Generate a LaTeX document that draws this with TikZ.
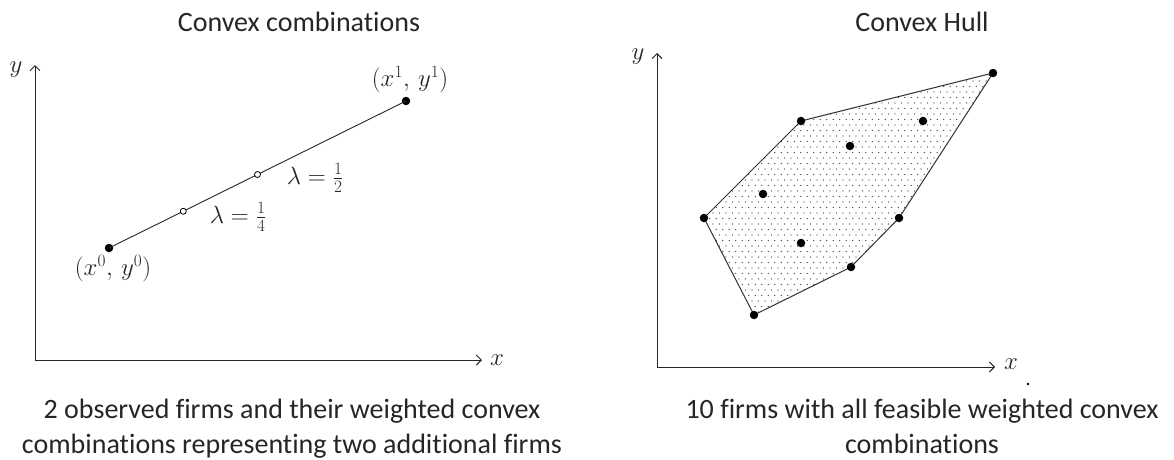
\documentclass[tikz,border=0pt]{standalone}
\usepackage[no-math]{fontspec}
\setmainfont{Carlito}[Ligatures={NoCommon}]
\usetikzlibrary{arrows.meta}
\begin{document}
\begin{tikzpicture}[x=1pt,y=-1pt,
  axis/.style={draw=black!85, line width=1pt, -{Straight Barb[length=5pt,width=10pt]}},
  fdot/.style={circle, fill=black, inner sep=0pt, minimum size=8.5pt},
  odot/.style={circle, draw=black, fill=white, line width=0.8pt, inner sep=0pt, minimum size=6pt},
  seg/.style={draw=black!85, line width=0.9pt},
  hull/.style={draw=black!80, line width=1pt},
  lbl/.style={inner sep=0pt, text=black!85, font=\fontsize{23}{27}\selectfont},
  ttl/.style={inner sep=0pt, anchor=base, text=black!85, font=\fontsize{28}{34}\selectfont},
  captext/.style={inner sep=0pt, anchor=base, text=black!85, font=\fontsize{28}{34}\selectfont}
]
\useasboundingbox (0,0) rectangle (1174,459);
\fill[white] (0,0) rectangle (1174,459);

% ---------- titles ----------
\node[ttl] (t1) at (299,31) {Convex combinations};
\node[ttl] (t2) at (922,31) {Convex Hull};

% ---------- left plot ----------
\coordinate (O1) at (35,360);
\coordinate (Y1) at (35,65);
\coordinate (X1) at (482,360);
\draw[axis] (O1) -- (Y1);
\draw[axis] (O1) -- (X1);
\node[lbl] (ly1) at (16,70) {$y$};
\node[lbl] (lx1) at (497,360) {$x$};

\node[fdot] (p0) at (109,248) {};
\node[fdot] (p1) at (406,101) {};
\draw[seg] (p0.center) -- (p1.center);
\node[odot] (q1) at (183.25,211.25) {};
\node[odot] (q2) at (257.5,174.5) {};
\node[lbl] (lp0) at (113,269) {$(x^{0},\,y^{0})$};
\node[lbl] (lp1) at (410,80) {$(x^{1},\,y^{1})$};
\node[lbl] (lq1) at (238,217) {$\lambda=\frac{1}{4}$};
\node[lbl] (lq2) at (315,178) {$\lambda=\frac{1}{2}$};

% ---------- right plot ----------
\coordinate (O2) at (657,367);
\coordinate (Y2) at (657,53);
\coordinate (X2) at (995,367);
\draw[axis] (O2) -- (Y2);
\draw[axis] (O2) -- (X2);
\node[lbl] (ly2) at (638,57) {$y$};
\node[lbl] (lx2) at (1011,364) {$x$};
\fill[black] (1028,384) circle (1.3) coordinate (dotmark);

\coordinate (hL) at (704,218);
\coordinate (hTL) at (801,121);
\coordinate (hTR) at (993,73);
\coordinate (hR) at (899,218);
\coordinate (hLR) at (851,267);
\coordinate (hB) at (754,315);

\begin{scope}
  \clip (hL) -- (hTL) -- (hTR) -- (hR) -- (hLR) -- (hB) -- cycle;
  \foreach \j in {0,...,46} {
    \foreach \i in {0,...,48} {
      \fill[black!80] ({700+\i*6.5+mod(\j,2)*3.25},{70+\j*5.5}) circle (0.55);
    }
  }
\end{scope}
\draw[hull] (hL) -- (hTL) -- (hTR) -- (hR) -- (hLR) -- (hB) -- cycle;

\node[fdot] (f1) at (hL) {};
\node[fdot] (f2) at (hTL) {};
\node[fdot] (f3) at (hTR) {};
\node[fdot] (f4) at (hR) {};
\node[fdot] (f5) at (hLR) {};
\node[fdot] (f6) at (hB) {};
\node[fdot] (f7) at (763,194) {};
\node[fdot] (f8) at (850,146) {};
\node[fdot] (f9) at (923,121) {};
\node[fdot] (f10) at (801,243) {};

% ---------- captions ----------
\node[captext] (c1a) at (292,418) {2 observed firms and their weighted convex};
\node[captext] (c1b) at (292,453) {combinations representing two additional firms};
\node[captext] (c2a) at (922,418) {10 firms with all feasible weighted convex};
\node[captext] (c2b) at (922,453) {combinations};
\end{tikzpicture}
\end{document}
